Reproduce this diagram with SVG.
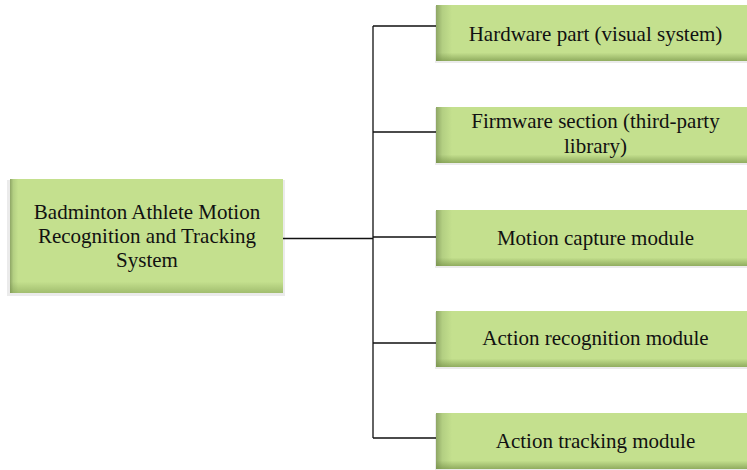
<svg xmlns="http://www.w3.org/2000/svg" width="747" height="470" viewBox="0 0 747 470">
<style>
.t{font-family:"Liberation Serif","Times New Roman",serif;font-size:21px;fill:#111;text-anchor:middle}
.c{stroke:#111;stroke-width:1.3;fill:none}
</style>
<defs>
<linearGradient id="gh" x1="0" y1="0" x2="1" y2="0">
<stop offset="0" stop-color="#8EA665"/>
<stop offset="0.012" stop-color="#B3CF82"/>
<stop offset="0.03" stop-color="#C4E08E"/>
<stop offset="1" stop-color="#C4E08E"/>
</linearGradient>
<linearGradient id="gv" x1="0" y1="0" x2="0" y2="1">
<stop offset="0.85" stop-color="#6E8A40" stop-opacity="0"/>
<stop offset="1" stop-color="#6E8A40" stop-opacity="0.6"/>
</linearGradient>
<linearGradient id="gh2" x1="0" y1="0" x2="1" y2="0">
<stop offset="0" stop-color="#8EA665"/>
<stop offset="0.02" stop-color="#B3CF82"/>
<stop offset="0.05" stop-color="#C4E08E"/>
<stop offset="1" stop-color="#C4E08E"/>
</linearGradient>
<linearGradient id="gv2" x1="0" y1="0" x2="0" y2="1">
<stop offset="0.9" stop-color="#6E8A40" stop-opacity="0"/>
<stop offset="1" stop-color="#6E8A40" stop-opacity="0.4"/>
</linearGradient>
</defs>
<g id="connectors">
<path class="c" d="M283 238.5H373M373 26V438M373 26H436M373 132H436M373 237H436M373 343H436M373 438H436"/>
</g>
<g id="root">
<rect x="7" y="180" width="278" height="116" fill="#000" opacity="0.08"/>
<rect x="10" y="179" width="273" height="114" fill="url(#gh)"/>
<rect x="10" y="179" width="273" height="114" fill="url(#gv2)"/>
<text class="t" x="147" y="219">Badminton Athlete Motion</text>
<text class="t" x="147" y="243">Recognition and Tracking</text>
<text class="t" x="147" y="267">System</text>
</g>
<g id="n1">
<rect x="435" y="6" width="320" height="57" fill="#000" opacity="0.08"/>
<rect x="436" y="5" width="320" height="56" fill="url(#gh2)"/>
<rect x="436" y="5" width="320" height="56" fill="url(#gv)"/>
<text class="t" x="595.5" y="41">Hardware part (visual system)</text>
</g>
<g id="n2">
<rect x="435" y="108" width="320" height="57" fill="#000" opacity="0.08"/>
<rect x="436" y="107" width="320" height="56" fill="url(#gh2)"/>
<rect x="436" y="107" width="320" height="56" fill="url(#gv)"/>
<text class="t" x="595.5" y="128">Firmware section (third-party</text>
<text class="t" x="595.5" y="153">library)</text>
</g>
<g id="n3">
<rect x="435" y="211" width="320" height="57" fill="#000" opacity="0.08"/>
<rect x="436" y="210" width="320" height="56" fill="url(#gh2)"/>
<rect x="436" y="210" width="320" height="56" fill="url(#gv)"/>
<text class="t" x="595.5" y="245">Motion capture module</text>
</g>
<g id="n4">
<rect x="435" y="312" width="320" height="57" fill="#000" opacity="0.08"/>
<rect x="436" y="311" width="320" height="56" fill="url(#gh2)"/>
<rect x="436" y="311" width="320" height="56" fill="url(#gv)"/>
<text class="t" x="595.5" y="345">Action recognition module</text>
</g>
<g id="n5">
<rect x="435" y="414" width="320" height="57" fill="#000" opacity="0.08"/>
<rect x="436" y="413" width="320" height="56" fill="url(#gh2)"/>
<rect x="436" y="413" width="320" height="56" fill="url(#gv)"/>
<text class="t" x="595.5" y="448">Action tracking module</text>
</g>
</svg>
